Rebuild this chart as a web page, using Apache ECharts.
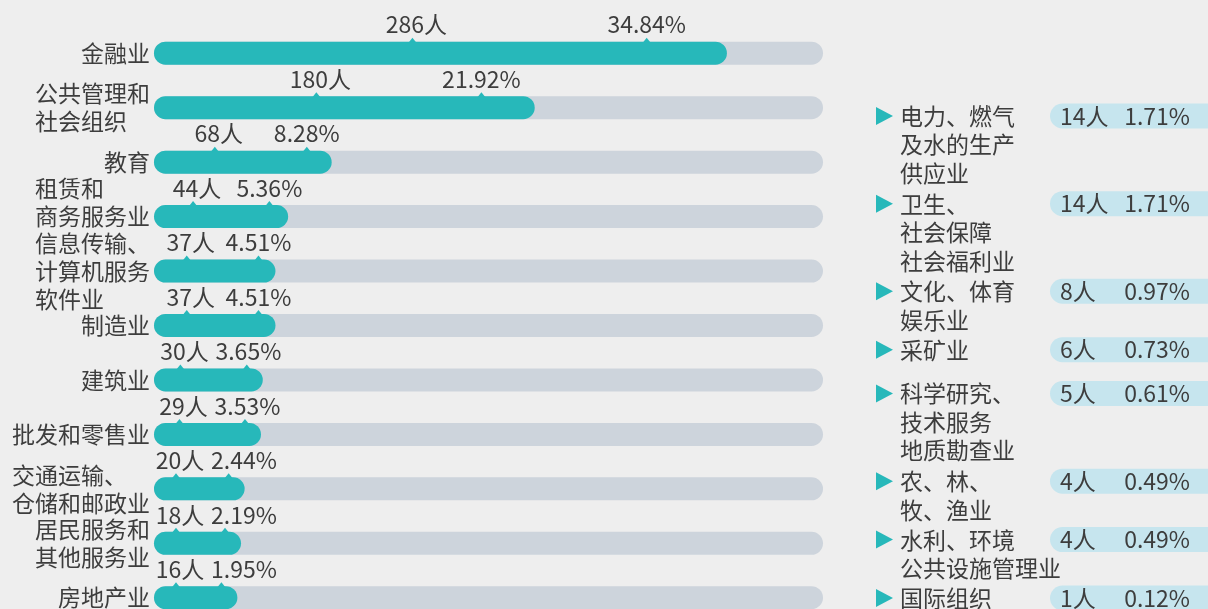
<!DOCTYPE html>
<html>
<head>
<meta charset="utf-8">
<script src="https://cdn.jsdelivr.net/npm/echarts@6/dist/echarts.min.js"></script>
<style>
  html, body { margin: 0; padding: 0; background: #eeeeee; }
  #main { width: 1208px; height: 609px; }
</style>
</head>
<body>
<div id="main"></div>
<script>
// 主要行业（左侧条形）
const industries = ['金融业', '公共管理和\n社会组织', '教育', '租赁和\n商务服务业', '信息传输、\n计算机服务\n软件业',
  '制造业', '建筑业', '批发和零售业', '交通运输、\n仓储和邮政业', '居民服务和\n其他服务业', '房地产业']
const counts = [286, 180, 68, 44, 37, 37, 30, 29, 20, 18, 16]
const percents = ['34.84', '21.92', '8.28', '5.36', '4.51', '4.51', '3.65', '3.53', '2.44', '2.19', '1.95']

// 其他行业（右侧列表）
const otherNames = ['电力、燃气\n及水的生产\n供应业', '卫生、\n社会保障\n社会福利业', '文化、体育\n娱乐业', '采矿业',
  '科学研究、\n技术服务\n地质勘查业', '农、林、\n牧、渔业', '水利、环境\n公共设施管理业', '国际组织']
const otherCounts = [14, 14, 8, 6, 5, 4, 4, 1]
const otherPercents = ['1.71', '1.71', '0.97', '0.73', '0.61', '0.49', '0.49', '0.12']

const TEAL = '#27b8ba'
const TRACK = '#cdd4dc'
const PILL = '#c6e5ee'
const TEXT = '#3d3d3d'
const FONT = 'Noto Sans CJK SC'
const FS = 23
const LH = 28
const BAR_H = 23
const ROW = 54.45
const X_MIN = -30
const X_MAX = 339

// 右侧列表每项的起始行位置（单行项目占1.5行）
const slotStarts = []
let acc = 0
otherNames.forEach(n => { slotStarts.push(acc); acc += Math.max(n.split('\n').length, 1.5) })

// 左侧标签：多行左对齐，整体右对齐
const rich = {}
for (let k = 1; k <= 8; k++) {
  rich['w' + k] = { width: k * FS, align: 'left', fontSize: FS, fontFamily: FONT, color: TEXT, lineHeight: LH }
}
const lineCount = s => s.split('\n').length

function labelFormatter(v, idx) {
  const lines = v.split('\n')
  const w = Math.max(...lines.map(l => l.length))
  const out = lines.map(l => '{w' + w + '|' + l + '}')
  // 与下一个标签重叠时上移半行
  const next = industries[idx + 1]
  if (next && (lines.length + lineCount(next)) / 2 * LH - ROW > 10) out.push('{w' + w + '| }')
  return out.join('\n')
}

function renderBar(params, api) {
  const i = params.dataIndex
  const start = api.coord([X_MIN, i])
  const end = api.coord([api.value(0), i])
  const trackEnd = api.coord([X_MAX, i])
  const top = start[1] - BAR_H / 2
  const len = end[0] - start[0]
  const cx1 = start[0] + 26 + Math.max(0, (len - 100) * 0.5)
  const cx2 = Math.max(start[0] + len * 0.86, cx1 + 64)
  const ty = top - 17
  const pointer = cx => ({
    type: 'polygon',
    shape: { points: [[cx - 4, top + 1], [cx + 4, top + 1], [cx, top - 4]] },
    style: { fill: TEAL }
  })
  const label = (cx, text) => ({
    type: 'text', x: cx, y: ty,
    style: { text, fontSize: FS, fontFamily: FONT, fill: TEXT, align: 'center', verticalAlign: 'middle' }
  })
  return {
    type: 'group',
    children: [
      { type: 'rect', shape: { x: start[0], y: top, width: trackEnd[0] - start[0], height: BAR_H, r: BAR_H / 2 }, style: { fill: TRACK } },
      { type: 'rect', shape: { x: start[0], y: top, width: len, height: BAR_H, r: BAR_H / 2 }, style: { fill: TEAL } },
      pointer(Math.max(cx1 - 4, start[0] + 18)),
      pointer(Math.min(cx2, end[0] - 16)),
      label(cx1, api.value(0) + '人'),
      label(cx2, percents[i] + '%')
    ]
  }
}

function renderOther(params, api) {
  const i = params.dataIndex
  const p = api.coord([0, api.value(1)])
  const x = p[0], y = p[1]
  return {
    type: 'group',
    children: [
      { type: 'polygon', shape: { points: [[x + 16, y - 9], [x + 16, y + 9], [x + 33, y]] }, style: { fill: TEAL } },
      { type: 'text', x: x + 40, y: y - 14,
        style: { text: otherNames[i], fontSize: FS, fontFamily: FONT, fill: TEXT, lineHeight: 28.5, verticalAlign: 'top', align: 'left' } },
      { type: 'rect', shape: { x: x + 190, y: y - 12.5, width: 180, height: 25, r: 12.5 }, style: { fill: PILL } },
      { type: 'text', x: x + 200, y: y,
        style: { text: otherCounts[i] + '人', fontSize: FS, fontFamily: FONT, fill: TEXT, align: 'left', verticalAlign: 'middle' } },
      { type: 'text', x: x + 330, y: y,
        style: { text: otherPercents[i] + '%', fontSize: FS, fontFamily: FONT, fill: TEXT, align: 'right', verticalAlign: 'middle' } }
    ]
  }
}

const chart = echarts.init(document.getElementById('main'))
chart.setOption({
  backgroundColor: '#eeeeee',
  animation: false,
  grid: [
    { left: 154, width: 669, top: 26, height: ROW * 11, outerBoundsMode: 'none' },
    { left: 860, width: 340, top: 116, height: 482, outerBoundsMode: 'none' }
  ],
  xAxis: [
    { type: 'value', min: X_MIN, max: X_MAX, show: false, gridIndex: 0 },
    { type: 'value', min: 0, max: 1, show: false, gridIndex: 1 }
  ],
  yAxis: [
    {
      type: 'category', inverse: true, data: industries, gridIndex: 0,
      axisLine: { show: false }, axisTick: { show: false },
      axisLabel: { margin: 4, formatter: labelFormatter, rich }
    },
    { type: 'value', inverse: true, min: 0, max: acc - 1.5, show: false, gridIndex: 1 }
  ],
  series: [
    {
      type: 'custom', xAxisIndex: 0, yAxisIndex: 0,
      renderItem: renderBar,
      encode: { x: 0, y: 1 },
      data: counts.map((c, i) => [c, i])
    },
    {
      type: 'custom', xAxisIndex: 1, yAxisIndex: 1,
      renderItem: renderOther,
      encode: { x: 0, y: 1 },
      data: otherCounts.map((c, i) => [0, slotStarts[i]])
    }
  ]
})
</script>
</body>
</html>
